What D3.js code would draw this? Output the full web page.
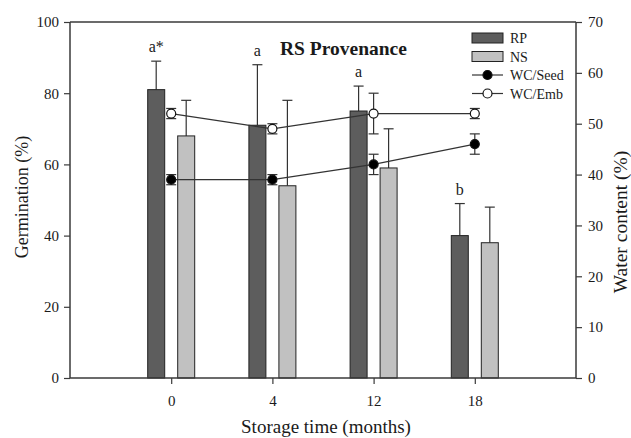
<!DOCTYPE html>
<html>
<head>
<meta charset="utf-8">
<script src="https://cdn.jsdelivr.net/npm/d3@7"></script>
<style>
  body { margin: 0; background: #fff; }
  text { font-family: "Liberation Serif", "Times New Roman", serif; fill: #1a1a1a; }
</style>
</head>
<body>
<div id="container"></div>
<script>
// data
var months = ["0", "4", "12", "18"];
var rpGerm = [81, 71, 75, 40];
var rpErr = [8, 17, 7, 9];
var nsGerm = [68, 54, 59, 38];
var nsErr = [10, 24, 11, 10];
var letters = ["a*", "a", "a", "b"];
var wcSeed = [39, 39, 42, 46];
var wcSeedErr = [1, 1, 2, 2];
var wcEmb = [52, 49, 52, 52];
var wcEmbErr = [1, 1, 4, 1];
var germTicks = [0, 20, 40, 60, 80, 100];
var wcTicks = [0, 10, 20, 30, 40, 50, 60, 70];

var W = 631, H = 438;
// (window.top is read-only, so no "top" here)
var plotL = 70, plotR = 576, plotT = 22, plotB = 378;

var svg = d3.select("#container").append("svg")
  .attr("width", W)
  .attr("height", H);

var x = d3.scalePoint().domain(months).range([plotL, plotR]).padding(1);
var yG = d3.scaleLinear().domain([0, 100]).range([plotB, plotT]);
var yW = d3.scaleLinear().domain([0, 70]).range([plotB, plotT]);

var axisColor = "#3a3a3a";
var barW = 17, off = 15;

// frame top line
svg.append("line")
  .attr("x1", plotL).attr("x2", plotR)
  .attr("y1", plotT).attr("y2", plotT)
  .attr("stroke", axisColor).attr("stroke-width", 1.5);

// bars + error bars
var series = [
  { vals: rpGerm, err: rpErr, dx: -off, fill: "#5d5d5d" },
  { vals: nsGerm, err: nsErr, dx: off, fill: "#c1c1c1" }
];
series.forEach(function(s){
  var g = svg.append("g");
  months.forEach(function(m, i){
    var cx = x(m) + s.dx;
    // error bar (upper only)
    g.append("line")
      .attr("x1", cx).attr("x2", cx)
      .attr("y1", yG(s.vals[i])).attr("y2", yG(s.vals[i] + s.err[i]))
      .attr("stroke", "#333").attr("stroke-width", 1.2);
    g.append("line")
      .attr("x1", cx - 5).attr("x2", cx + 5)
      .attr("y1", yG(s.vals[i] + s.err[i])).attr("y2", yG(s.vals[i] + s.err[i]))
      .attr("stroke", "#333").attr("stroke-width", 1.2);
    g.append("rect")
      .attr("x", cx - barW / 2)
      .attr("y", yG(s.vals[i]))
      .attr("width", barW)
      .attr("height", yG(0) - yG(s.vals[i]))
      .attr("fill", s.fill)
      .attr("stroke", "#222").attr("stroke-width", 1);
  });
});

// significance letters
svg.selectAll("text.letter")
  .data(months)
  .enter().append("text")
  .attr("class", "letter")
  .attr("x", function(d){ return x(d) - off; })
  .attr("y", function(d, i){ return yG(rpGerm[i] + rpErr[i]) - 9; })
  .attr("text-anchor", "middle")
  .attr("font-size", 16)
  .text(function(d, i){ return letters[i]; });

// water content lines
var wcSeries = [
  { vals: wcSeed, err: wcSeedErr, fill: "#000" },
  { vals: wcEmb, err: wcEmbErr, fill: "#fff" }
];
var line = d3.line()
  .x(function(d, i){ return x(months[i]); })
  .y(function(d){ return yW(d); });

wcSeries.forEach(function(s){
  svg.append("path")
    .datum(s.vals)
    .attr("d", line)
    .attr("fill", "none")
    .attr("stroke", "#333").attr("stroke-width", 1.2);
  months.forEach(function(m, i){
    var cx = x(m);
    var lo = yW(s.vals[i] - s.err[i]), hi = yW(s.vals[i] + s.err[i]);
    svg.append("line")
      .attr("x1", cx).attr("x2", cx).attr("y1", lo).attr("y2", hi)
      .attr("stroke", "#333").attr("stroke-width", 1.2);
    [lo, hi].forEach(function(yy){
      svg.append("line")
        .attr("x1", cx - 5).attr("x2", cx + 5).attr("y1", yy).attr("y2", yy)
        .attr("stroke", "#333").attr("stroke-width", 1.2);
    });
    svg.append("circle")
      .attr("cx", cx).attr("cy", yW(s.vals[i])).attr("r", 4.5)
      .attr("fill", s.fill)
      .attr("stroke", "#111").attr("stroke-width", 1.2);
  });
});

// axes
var gLeft = svg.append("g")
  .attr("transform", "translate(" + plotL + ",0)")
  .call(d3.axisLeft(yG).tickValues(germTicks).tickSize(6).tickPadding(5));
var gRight = svg.append("g")
  .attr("transform", "translate(" + plotR + ",0)")
  .call(d3.axisRight(yW).tickValues(wcTicks).tickSize(6).tickPadding(6));
var gBottom = svg.append("g")
  .attr("transform", "translate(0," + plotB + ")")
  .call(d3.axisBottom(x).tickSize(6).tickPadding(11).tickSizeOuter(0));

[gLeft, gRight, gBottom].forEach(function(g){
  g.selectAll("path.domain").attr("stroke", axisColor).attr("stroke-width", 1.5);
  g.selectAll(".tick line").attr("stroke", axisColor).attr("stroke-width", 1.2);
  g.selectAll("text").attr("font-family", "Liberation Serif, Times New Roman, serif").attr("font-size", 15).attr("fill", "#1a1a1a");
});
gLeft.select("path.domain").attr("d", "M0," + plotB + "V" + plotT);
gRight.select("path.domain").attr("d", "M0," + plotB + "V" + plotT);
gBottom.select("path.domain").attr("d", "M" + plotL + ",0H" + plotR);

// axis titles
svg.append("text")
  .attr("transform", "translate(28,197) rotate(-90)")
  .attr("text-anchor", "middle")
  .attr("font-size", 18)
  .text("Germination (%)");
svg.append("text")
  .attr("transform", "translate(627,222) rotate(-90)")
  .attr("text-anchor", "middle")
  .attr("font-size", 19.5)
  .text("Water content (%)");
svg.append("text")
  .attr("x", 326)
  .attr("y", 433)
  .attr("text-anchor", "middle")
  .attr("font-size", 19)
  .text("Storage time (months)");

// title
svg.append("text")
  .attr("x", 280).attr("y", 55)
  .attr("font-size", 19.5)
  .attr("font-weight", "bold")
  .text("RS Provenance");

// legend
var legend = svg.append("g").attr("transform", "translate(472,33)");
var legItems = [
  { label: "RP", type: "bar", fill: "#5d5d5d" },
  { label: "NS", type: "bar", fill: "#c1c1c1" },
  { label: "WC/Seed", type: "line", fill: "#000" },
  { label: "WC/Emb", type: "line", fill: "#fff" }
];
legItems.forEach(function(d, i){
  var yy = i * 18.5;
  if (d.type == "bar") {
    legend.append("rect")
      .attr("x", 0).attr("y", yy).attr("width", 31).attr("height", 10)
      .attr("fill", d.fill).attr("stroke", "#222").attr("stroke-width", 1);
  } else {
    legend.append("line")
      .attr("x1", 0).attr("x2", 31).attr("y1", yy + 5).attr("y2", yy + 5)
      .attr("stroke", "#333").attr("stroke-width", 1.2);
    legend.append("circle")
      .attr("cx", 15.5).attr("cy", yy + 5).attr("r", 4.5)
      .attr("fill", d.fill).attr("stroke", "#111").attr("stroke-width", 1.2);
  }
  legend.append("text")
    .attr("x", 38).attr("y", yy + 10)
    .attr("font-size", 14)
    .text(d.label);
});
</script>
</body>
</html>
